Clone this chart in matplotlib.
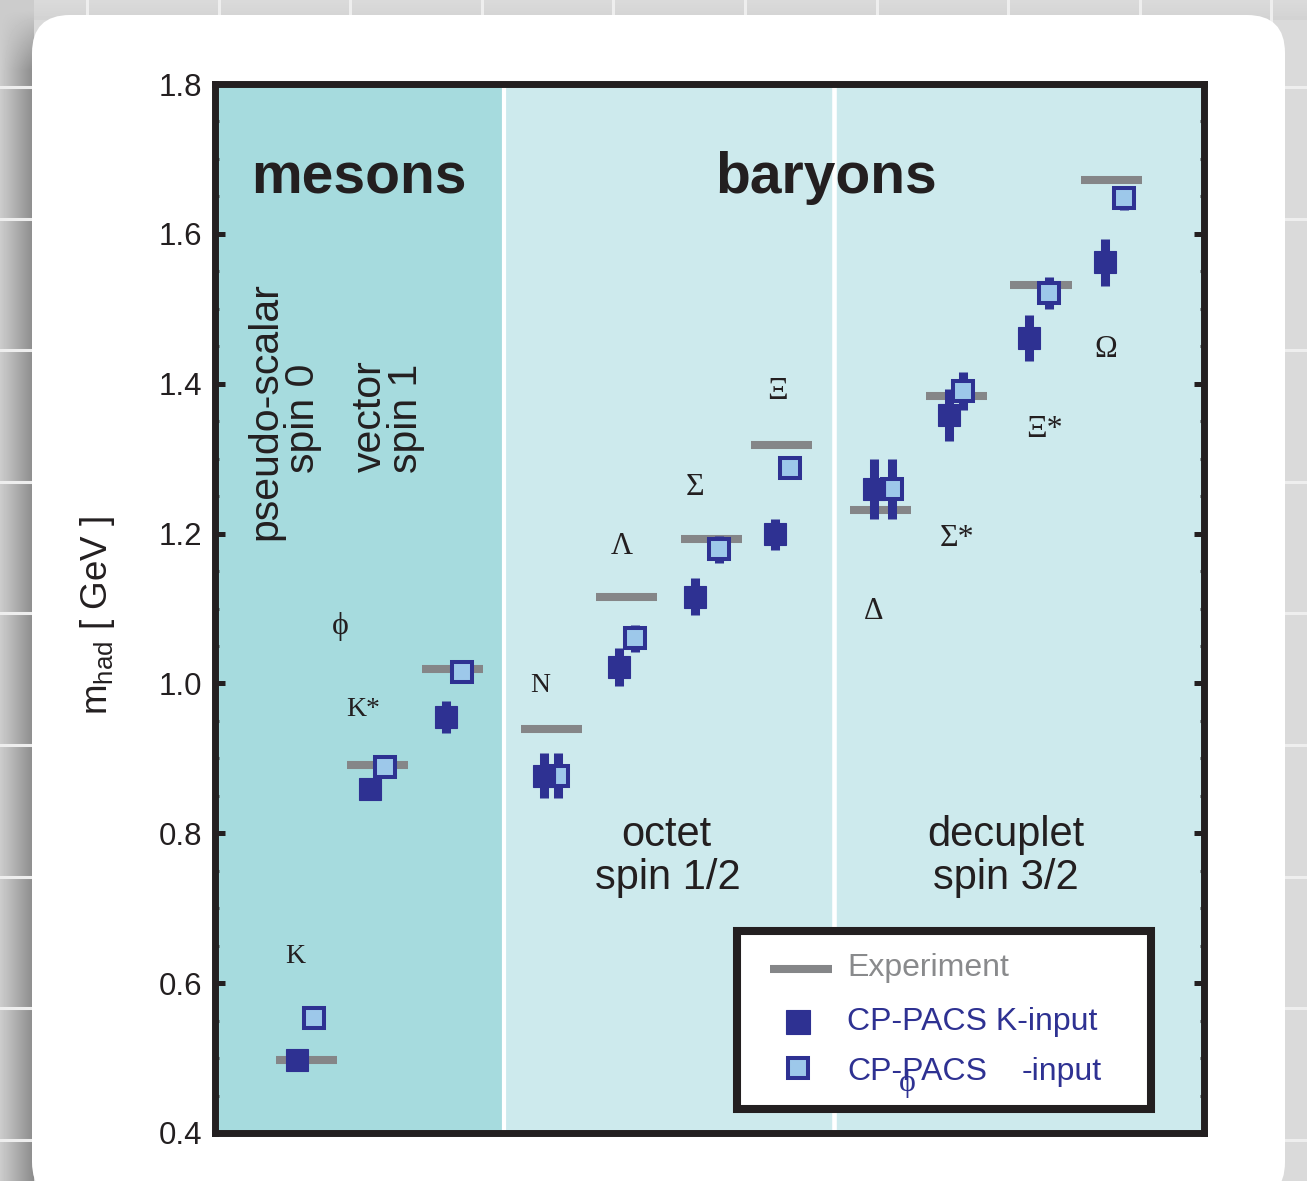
import matplotlib
matplotlib.use('Agg')
import matplotlib.pyplot as plt
import numpy as np
from matplotlib.patches import FancyBboxPatch, Rectangle
from matplotlib.ticker import MultipleLocator, FormatStrFormatter

plt.rcParams['font.family'] = ['Liberation Sans', 'DejaVu Sans']
plt.rcParams['mathtext.fontset'] = 'custom'
plt.rcParams['mathtext.rm'] = 'Liberation Sans'
plt.rcParams['mathtext.it'] = 'Liberation Sans:italic'

# ---------------- data ----------------
hadrons = ['K', 'K*', 'ϕ', 'N', 'Λ', 'Σ', 'Ξ', 'Δ', 'Σ*', 'Ξ*', 'Ω']
m_exp = [0.4977, 0.8917, 1.0195, 0.9389, 1.1157, 1.1926, 1.3183, 1.2320, 1.3837, 1.5318, 1.6725]
m_kin = [0.497, 0.859, 0.955, 0.877, 1.022, 1.116, 1.199, 1.260, 1.358, 1.461, 1.562]
e_kin = [0.0, 0.012, 0.021, 0.030, 0.025, 0.025, 0.021, 0.040, 0.035, 0.031, 0.031]
m_phin = [0.553, 0.888, 1.015, 0.877, 1.060, 1.179, 1.287, 1.260, 1.390, 1.521, 1.648]
e_phin = [0.0, 0.0, 0.010, 0.030, 0.018, 0.018, 0.010, 0.040, 0.025, 0.021, 0.016]
yticks = [0.4, 0.6, 0.8, 1.0, 1.2, 1.4, 1.6, 1.8]

# positions (horizontal slots, 1 unit = 75 px)
x_exp = [1.22, 2.167, 3.167, 4.487, 5.487, 6.62, 7.553, 8.873, 9.887, 11.013, 11.953]
x_kin = [1.093, 2.067, 3.08, 4.387, 5.387, 6.4, 7.467, 8.787, 9.787, 10.853, 11.867]
x_phin = [1.32, 2.267, 3.293, 4.573, 5.6, 6.72, 7.667, 9.027, 9.973, 11.12, 12.12]
lab_x = [1.073, 1.98, 1.667, 4.333, 5.427, 6.407, 7.493, 8.787, 9.893, 11.053, 11.88]
lab_y = [0.627, 0.957, 1.066, 0.989, 1.173, 1.251, 1.379, 1.086, 1.184, 1.329, 1.436]
lab_size = [20, 20, 23, 20, 22, 23, 23, 22, 23, 23, 22]

NAVY = '#2e3192'
LIGHT = '#9dc8ea'
GREY = '#858688'
INK = '#231f20'
MES = '#a6dbde'
BAR = '#cdeaed'
SERIF = ['Liberation Serif', 'DejaVu Serif']

W, H = 1307, 1181
fig = plt.figure(figsize=(W / 100, H / 100), dpi=100)

# ---------------- background card ----------------
bg = fig.add_axes([0, 0, 1, 1])
bg.set_xlim(0, W)
bg.set_ylim(H, 0)
bg.axis('off')
xx, yy = np.meshgrid(np.arange(W), np.arange(H))
img = np.full((H, W), 0.855)
img -= 0.03 * (yy < 20) * (yy / 20.0)
left = xx < 34
fade = np.clip((yy - 10) / 60.0, 0, 1)
img = np.where(left, 0.80 - 0.26 * (xx / 34.0) * fade, img)
bg.imshow(img, cmap='gray', vmin=0, vmax=1, extent=(0, W, H, 0), aspect='auto',
          interpolation='bilinear', zorder=0)
for k in range(11):
    g = 87 + 131.6 * k
    bg.plot([g, g], [0, H], color='#eeeeee', lw=2.2, zorder=1)
    bg.plot([0, W], [g, g], color='#eeeeee', lw=2.2, zorder=1)
card = FancyBboxPatch((32, 15), 1253, 1185, boxstyle='round,pad=0,rounding_size=38',
                      fc='white', ec='none', zorder=2)
bg.add_patch(card)

# ---------------- main axes ----------------
ax = fig.add_axes([215 / W, 1 - 1133 / H, 988.5 / W, 1049 / H])
XMAX = 988.5 / 75
ax.set_xlim(0, XMAX)
ax.set_ylim(0.4, 1.8)
sep1 = (504 - 215) / 75
sep2 = (833.5 - 215) / 75
ax.axvspan(0, sep1, color=MES, lw=0, zorder=0)
ax.axvspan(sep1, XMAX, color=BAR, lw=0, zorder=0)
ax.axvline(sep1, color='white', lw=3, zorder=0.5)
ax.axvline(sep2, color='white', lw=3.3, zorder=0.5)

x_exp_a = np.array(x_exp)
ax.hlines(m_exp, x_exp_a - 0.407, x_exp_a + 0.407, color=GREY, lw=5.8,
          capstyle='butt', zorder=1)

ax.errorbar(x_phin, m_phin, yerr=e_phin, fmt='none', ecolor=NAVY, elinewidth=6.5,
            capsize=0, zorder=2)
ax.plot(x_phin, m_phin, ls='none', marker='s', ms=14.4, mfc=LIGHT, mec=NAVY,
        mew=2.9, zorder=3)
ax.errorbar(x_kin, m_kin, yerr=e_kin, fmt='none', ecolor=NAVY, elinewidth=6.5,
            capsize=0, zorder=4)
ax.plot(x_kin, m_kin, ls='none', marker='s', ms=16.5, mfc=NAVY, mec=NAVY,
        mew=0.8, zorder=5)

for name, lx, ly, fs in zip(hadrons, lab_x, lab_y, lab_size):
    ax.text(lx, ly, name, ha='center', va='baseline', fontsize=fs, color=INK,
            family=SERIF, zorder=6)

ax.set_xticks([])
ax.set_yticks(yticks)
ax.yaxis.set_major_formatter(FormatStrFormatter('%.1f'))
ax.yaxis.set_minor_locator(MultipleLocator(0.05))
ax.tick_params(axis='y', which='major', direction='in', length=7.5, width=3.6,
               left=True, right=True, labelsize=22.5, pad=9, color=INK, labelcolor=INK)
ax.tick_params(axis='y', which='minor', direction='in', length=3, width=2.2,
               left=True, right=True, color='#4a4a4a')
for s in ax.spines.values():
    s.set_linewidth(5)
    s.set_color(INK)

# ---------------- overlay texts (pixel coords) ----------------
ov = fig.add_axes([0, 0, 1, 1], facecolor='none')
ov.set_xlim(0, W)
ov.set_ylim(H, 0)
ov.axis('off')

ov.text(359, 193, 'mesons', ha='center', va='baseline', fontsize=41,
        fontweight='bold', color=INK)
ov.text(826.5, 193, 'baryons', ha='center', va='baseline', fontsize=41,
        fontweight='bold', color=INK)
ov.text(666, 846, 'octet', ha='center', va='baseline', fontsize=30, color=INK)
ov.text(668, 889, 'spin 1/2', ha='center', va='baseline', fontsize=30, color=INK)
ov.text(1006, 846, 'decuplet', ha='center', va='baseline', fontsize=30, color=INK)
ov.text(1006, 889, 'spin 3/2', ha='center', va='baseline', fontsize=30, color=INK)

for tx, bx, cy in [('pseudo-scalar', 276, 411), ('spin 0', 314, 418),
                   ('vector', 381, 416), ('spin 1', 417, 418)]:
    ov.text(bx, cy, tx, rotation=90, rotation_mode='anchor', ha='center',
            va='baseline', fontsize=29.5, color=INK)

ov.text(107, 616, r'm$_{\mathrm{had}}$ [ GeV ]', rotation=90, rotation_mode='anchor',
        ha='center', va='baseline', fontsize=26.5, color=INK)

# legend
ov.add_patch(Rectangle((737, 931), 414, 178, fc='white', ec=INK, lw=5.8, zorder=5))
ov.plot([770, 832], [969, 969], color=GREY, lw=5.8, solid_capstyle='butt', zorder=6)
ov.plot([798], [1022], ls='none', marker='s', ms=17.5, mfc=NAVY, mec=NAVY, mew=0.8, zorder=6)
ov.plot([798], [1068], ls='none', marker='s', ms=15, mfc=LIGHT, mec=NAVY, mew=2.9, zorder=6)
ov.text(847, 976, 'Experiment', ha='left', va='baseline', fontsize=23, color='#898a8c', zorder=7)
ov.text(847, 1030, 'CP-PACS K-input', ha='left', va='baseline', fontsize=23, color=NAVY, zorder=7)
ov.text(847, 1080, 'CP-PACS', ha='left', va='baseline', fontsize=23, color=NAVY, zorder=7)
ov.text(1022, 1080, '-input', ha='left', va='baseline', fontsize=23, color=NAVY, zorder=7)
ov.text(907, 1091, 'ϕ', ha='center', va='baseline', fontsize=23, color=NAVY,
        family=SERIF, zorder=8)

fig.savefig('out.png', dpi=100)
